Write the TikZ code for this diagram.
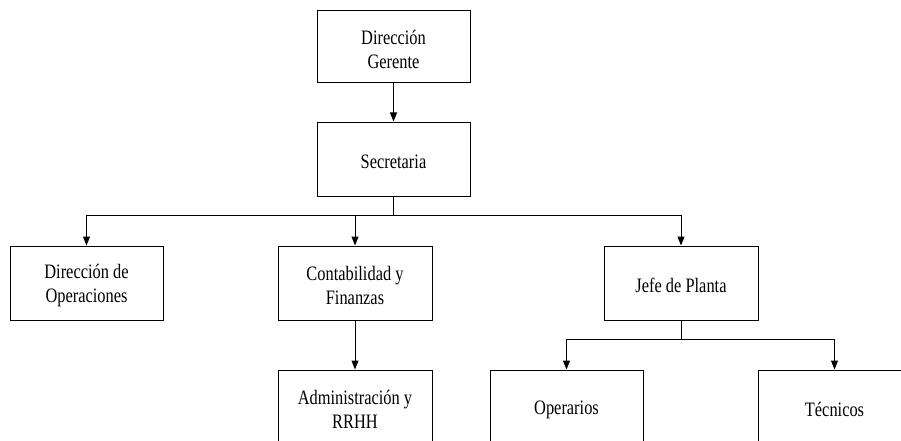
\documentclass[tikz,border=0pt]{standalone}
\usepackage{fontspec}
\setmainfont[FakeStretch=0.8]{Liberation Serif}
\usetikzlibrary{arrows.meta}
\begin{document}
\begin{tikzpicture}[x=1pt,y=-1pt,
  box/.style={draw=black,line width=1pt,minimum width=153pt,minimum height=74pt,inner sep=0pt},
  txt/.style={inner sep=0pt,align=center,font=\fontsize{20.5}{24}\selectfont},
  conn/.style={draw=black,line width=1pt},
  arr/.style={conn,-{Triangle[length=9pt,width=7pt]}}]
\clip (0,0) rectangle (901,441);
\fill[white] (0,0) rectangle (901,441);
\node[box,minimum height=72pt] (dg) at (393.5,47) {};
\node[box] (sec) at (393.5,159) {};
\node[box] (ops) at (86.5,283) {};
\node[box,minimum width=154pt] (cont) at (355,283) {};
\node[box,minimum width=154pt] (jefe) at (681,283) {};
\node[box,minimum width=154pt] (adm) at (355,407) {};
\node[box] (oper) at (566.5,407) {};
\node[box] (tec) at (834.5,407) {};
\node[txt] (dgt) at ([yshift=-2.5pt]dg.center) {Dirección\\Gerente};
\node[txt] (sect) at ([yshift=-2.5pt]sec.center) {Secretaria};
\node[txt] (opst) at ([yshift=-2.5pt]ops.center) {Dirección de\\Operaciones};
\node[txt] (contt) at ([yshift=-2.5pt]cont.center) {Contabilidad y\\Finanzas};
\node[txt] (jefet) at ([yshift=-2.5pt]jefe.center) {Jefe de Planta};
\node[txt] (admt) at ([yshift=-2.5pt]adm.center) {Administración y\\RRHH};
\node[txt] (opert) at ([yshift=-2.5pt]oper.center) {Operarios};
\node[txt] (tect) at ([yshift=-2.5pt]tec.center) {Técnicos};
\coordinate (b1) at (393.5,215);
\coordinate (b2) at (681,339);
\draw[arr] (dg) -- (sec);
\draw[arr] (sec.south) -- (b1) -| (ops.north);
\draw[arr] (b1) -| (cont.north);
\draw[arr] (b1) -| (jefe.north);
\draw[arr] (cont) -- (adm);
\draw[arr] (jefe.south) -- (b2) -| (oper.north);
\draw[arr] (b2) -| (tec.north);
\end{tikzpicture}
\end{document}
